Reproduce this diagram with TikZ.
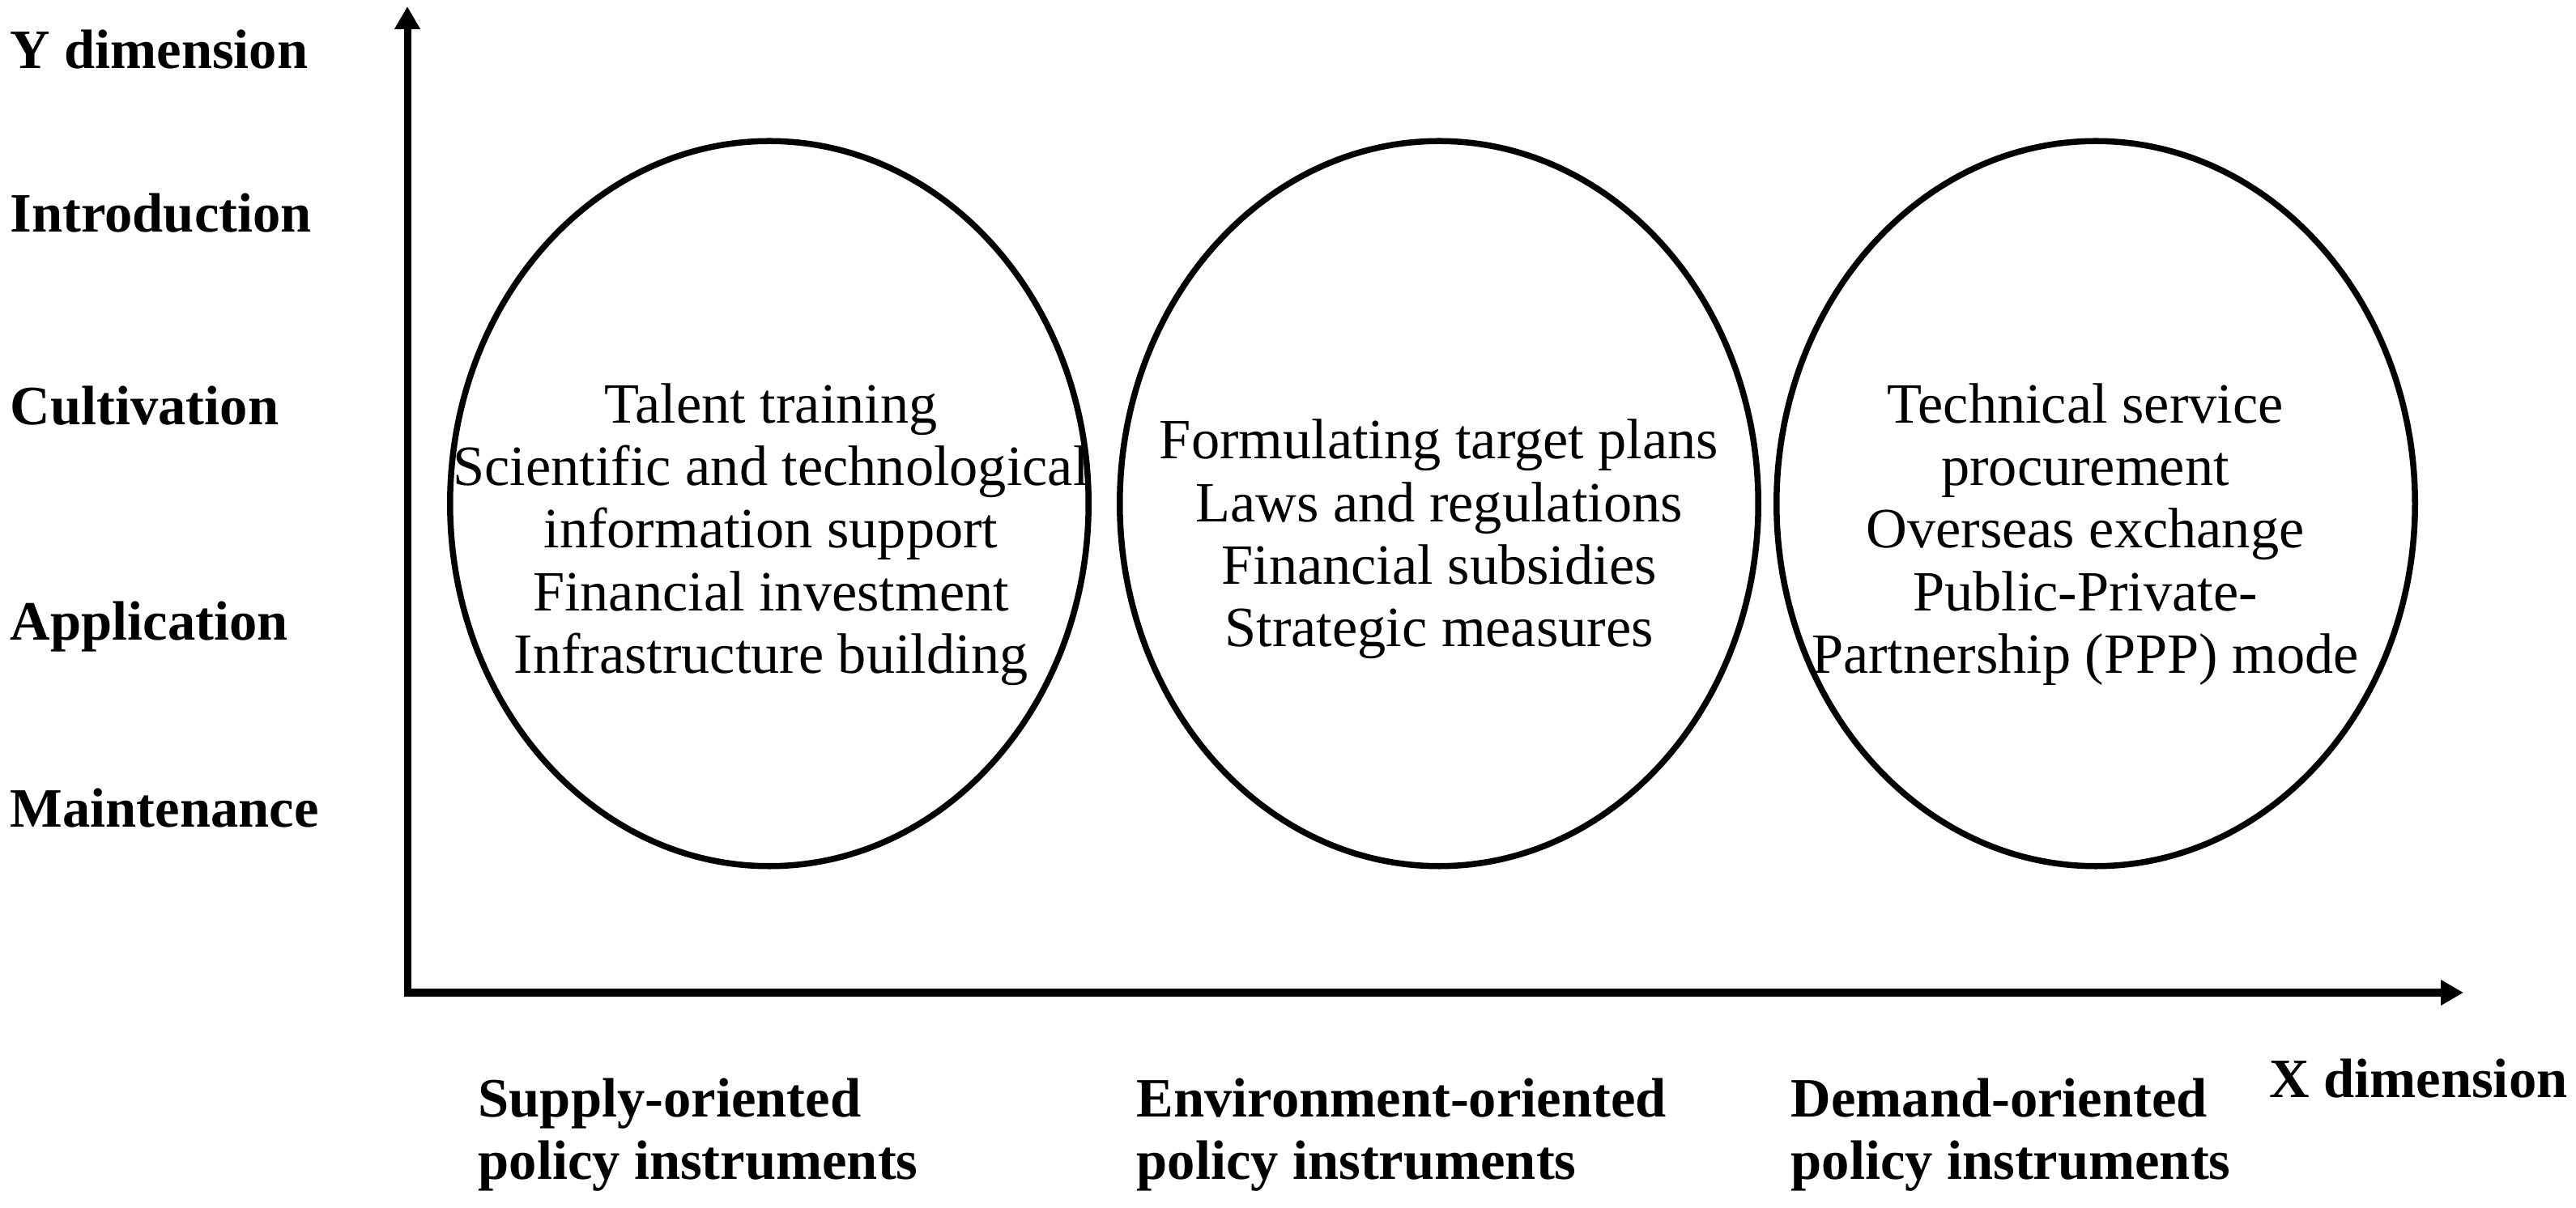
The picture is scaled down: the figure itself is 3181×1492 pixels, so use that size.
\documentclass[tikz,border=0pt]{standalone}
\usepackage{fontspec}
\setmainfont{Liberation Serif}
\usetikzlibrary{arrows.meta,shapes.geometric}
\begin{document}
\begin{tikzpicture}[x=0.01cm,y=-0.01cm,
  axisline/.style={line width=0.09cm,{Triangle[length=0.28cm,width=0.30cm]}-{Triangle[length=0.28cm,width=0.30cm]}},
  ring/.style={draw,ellipse,line width=0.075cm,minimum width=7.88cm,minimum height=8.95cm,inner sep=0pt},
  inner/.style={align=center,font=\fontsize{20pt}{22pt}\selectfont,inner sep=0pt},
  dimlabel/.style={anchor=base west,font=\bfseries\fontsize{19.5pt}{22pt}\selectfont,inner sep=0pt},
  catlabel/.style={anchor=north west,align=left,font=\bfseries\fontsize{19.5pt}{22pt}\selectfont,inner sep=0pt}
]
\useasboundingbox (0,0) rectangle (3181,1492);
\coordinate (O) at (503,1226);
\coordinate (ytip) at (503,8);
\coordinate (xtip) at (3042,1226);
\draw[axisline] (ytip) -- (O) -- (xtip);

\node[ring] (e1) at (950,622) {};
\node[ring] (e2) at (1777,622) {};
\node[ring] (e3) at (2588,622) {};

\node[inner] (t1) at (952,660) {Talent training\\Scientific and technological\\information support\\Financial investment\\Infrastructure building};
\node[inner] (t2) at (1777,666) {Formulating target plans\\Laws and regulations\\Financial subsidies\\Strategic measures};
\node[inner] (t3) at (2575,660) {Technical service\\procurement\\Overseas exchange\\Public-Private-\\Partnership (PPP) mode};

\node[dimlabel] (ydim) at (12,85) {Y dimension};
\node[dimlabel] (intro) at (12,287) {Introduction};
\node[dimlabel] (cult) at (12,525) {Cultivation};
\node[dimlabel] (appl) at (12,791) {Application};
\node[dimlabel] (maint) at (12,1022) {Maintenance};

\node[catlabel] (supply) at (590,1331) {Supply-oriented\\policy instruments};
\node[catlabel] (env) at (1403,1331) {Environment-oriented\\policy instruments};
\node[catlabel] (demand) at (2211,1331) {Demand-oriented\\policy instruments};
\node[dimlabel] (xdim) at (2802,1355) {X dimension};
\end{tikzpicture}
\end{document}
